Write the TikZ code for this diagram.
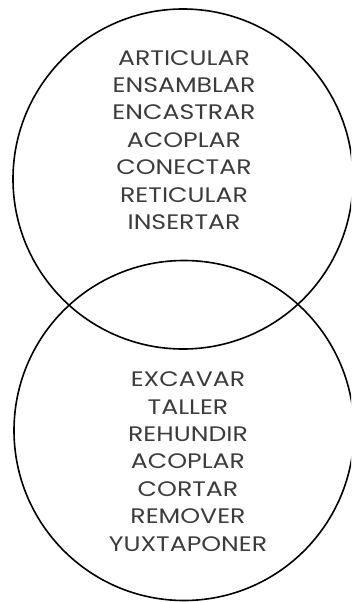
\documentclass[tikz,border=0pt]{standalone}
\usepackage{fontspec}
\setmainfont{Poppins}[FakeStretch=1.2]
\definecolor{txtgray}{HTML}{3C3C3C}
\begin{document}
\begin{tikzpicture}[x=1pt,y=-1pt,
  ring/.style={draw=black,line width=1.6pt,circle,minimum size=340pt,inner sep=0pt},
  wordlist/.style={text=txtgray,align=center,inner sep=0pt,font=\fontsize{21}{27.4}\selectfont}]
\useasboundingbox (0,0) rectangle (351,602);
\clip (0,0) rectangle (351,602);
\node[ring] (top) at (183,179) {};
\node[ring] (bot) at (184,430.5) {};
\node[wordlist] (toplist) at (184,140) {ARTICULAR\\ENSAMBLAR\\ENCASTRAR\\ACOPLAR\\CONECTAR\\RETICULAR\\INSERTAR};
\node[wordlist] (botlist) at (188,461.5) {EXCAVAR\\TALLER\\REHUNDIR\\ACOPLAR\\CORTAR\\REMOVER\\YUXTAPONER};
\end{tikzpicture}
\end{document}
